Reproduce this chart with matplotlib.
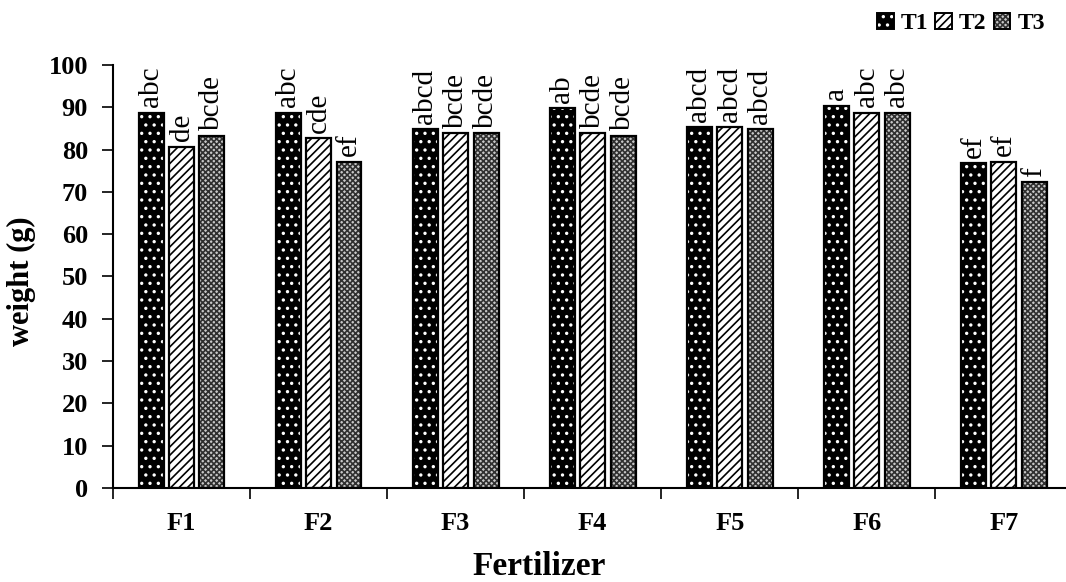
import matplotlib.pyplot as plt
from matplotlib.patches import Patch

plt.rcParams["font.family"] = ["Liberation Serif", "DejaVu Serif"]
plt.rcParams["hatch.linewidth"] = 1.2

fertilizers = ["F1", "F2", "F3", "F4", "F5", "F6", "F7"]
series_names = ["T1", "T2", "T3"]
t1 = [88.7, 88.7, 84.8, 89.8, 85.3, 90.3, 76.7]
t2 = [80.7, 82.7, 83.9, 83.9, 85.3, 88.7, 77.1]
t3 = [83.2, 77.1, 83.9, 83.2, 84.8, 88.7, 72.3]
t1_letters = ["abc", "abc", "abcd", "ab", "abcd", "a", "ef"]
t2_letters = ["de", "cde", "bcde", "bcde", "abcd", "abc", "ef"]
t3_letters = ["bcde", "ef", "bcde", "bcde", "abcd", "abc", "f"]

# fill style per series: (facecolor, hatch colour, hatch)
styles = [("black", "white", ".."), ("white", "black", "////"), ("#c8c8c8", "#303030", "xxxxxx")]

fig = plt.figure(figsize=(10.66, 5.82), dpi=100)
ax = fig.add_axes([0.106, 0.1615, 0.9, 0.727])

width = 0.182
offsets = [-0.222, 0.0, 0.222]
x = list(range(len(fertilizers)))
handles = []
for vals, letters, off, (fc, hc, hatch), name in zip(
    [t1, t2, t3], [t1_letters, t2_letters, t3_letters], offsets, styles, series_names
):
    pos = [i + off for i in x]
    ax.bar(pos, vals, width, color=fc, edgecolor=hc, hatch=hatch, linewidth=0, zorder=2)
    ax.bar(pos, vals, width, fill=False, edgecolor="black", linewidth=1.6, zorder=3)
    for p, v, lab in zip(pos, vals, letters):
        ax.text(p, v + 1.3, lab, rotation=90, ha="center", va="bottom", fontsize=21)
    handles.append((Patch(facecolor=fc, edgecolor=hc, hatch=hatch, linewidth=0),
                    Patch(fill=False, edgecolor="black", linewidth=1.4)))

ax.set_xlim(-0.5, 6.5)
ax.set_ylim(0, 100)
ax.set_yticks(range(0, 101, 10))
ax.set_xticks([i - 0.5 for i in range(8)])
ax.set_xticklabels([])
ax.set_xticks(x, minor=True)
ax.set_xticklabels(fertilizers, minor=True, fontsize=19, fontweight="bold")
ax.tick_params(axis="x", which="major", length=8, width=1.2, direction="out")
ax.tick_params(axis="x", which="minor", length=0, pad=17)
ax.tick_params(axis="y", length=8, width=1.2, direction="out", pad=10, labelsize=19)
for lab in ax.get_yticklabels():
    lab.set_fontweight("bold")

for side in ["top", "right"]:
    ax.spines[side].set_visible(False)
for side in ["left", "bottom"]:
    ax.spines[side].set_linewidth(1.5)

fig.text(0.0206, 0.517, "weight (g)", rotation=90, ha="center", va="center",
         fontsize=22, fontweight="bold")
fig.text(0.506, 0.012, "Fertilizer", ha="center", va="baseline",
         fontsize=24, fontweight="bold")

fig.legend(handles, series_names, loc="upper right", bbox_to_anchor=(1.0, 1.015), ncol=3,
           frameon=False, handlelength=0.7, handleheight=0.7, handletextpad=0.3,
           columnspacing=0.3, prop={"size": 17, "weight": "bold"})

fig.savefig("out.png", dpi=100)
